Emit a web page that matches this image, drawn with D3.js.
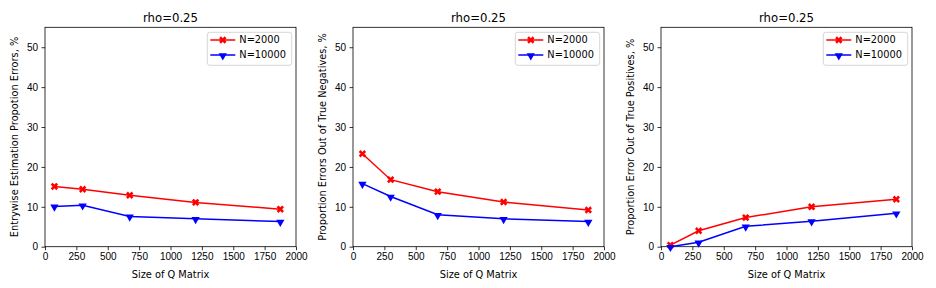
<!DOCTYPE html>
<html>
<head>
<meta charset="utf-8">
<script src="https://cdn.jsdelivr.net/npm/d3@7"></script>
<style>
  body { margin: 0; background: #fff; }
  svg { font-family: "DejaVu Sans", sans-serif; }
  .axis path, .axis line { stroke: #000; stroke-width: 0.8; }
</style>
</head>
<body>
<svg id="chart" width="936" height="288"></svg>
<script>
// values
var qSizes = [75, 300, 675, 1200, 1875];
var xTicks = [0, 250, 500, 750, 1000, 1250, 1500, 1750, 2000];
var yTicks = [0, 10, 20, 30, 40, 50];
var seriesNames = ["N=2000", "N=10000"];

var entrywiseN2000 = [15.1, 14.4, 12.9, 11.1, 9.4];
var entrywiseN10000 = [10.1, 10.4, 7.6, 7.0, 6.3];
var negativesN2000 = [23.3, 16.8, 13.8, 11.2, 9.2];
var negativesN10000 = [15.8, 12.6, 8.0, 7.0, 6.3];
var positivesN2000 = [0.4, 4.0, 7.3, 10.0, 11.9];
var positivesN10000 = [0.0, 1.1, 5.1, 6.4, 8.4];

var panelTitles = ["rho=0.25", "rho=0.25", "rho=0.25"];
var yLabels = ["Entrywise Estimation Propotion Errors, %",
               "Proportion Errors Out of True Negatives, %",
               "Proportion Error Out of True Positives, %"];
var xLabel = "Size of Q Matrix";

var panels = [
  {title: panelTitles[0], ylabel: yLabels[0], series: [entrywiseN2000, entrywiseN10000]},
  {title: panelTitles[1], ylabel: yLabels[1], series: [negativesN2000, negativesN10000]},
  {title: panelTitles[2], ylabel: yLabels[2], series: [positivesN2000, positivesN10000]}
];

var colors = ["#ff0000", "#0000ff"];
var lefts = [45, 353, 661];
var panelTop = 27.3, pw = 251, ph = 219.4;

var svg = d3.select("#chart");

// filled X for N=2000, down triangle for N=10000
var markerX = d3.symbol().type(d3.symbolCross).size(34);
var markerV = d3.symbol().type(d3.symbolTriangle).size(30);
function drawMarker(g, i, x, y){
  if(i===0){
    g.append("path").attr("d", markerX())
      .attr("transform", "translate("+x+","+y+") rotate(45)")
      .attr("fill", colors[i]);
  } else {
    g.append("path").attr("d", markerV())
      .attr("transform", "translate("+x+","+(y+0.6)+") rotate(180)")
      .attr("fill", colors[i]);
  }
}

panels.forEach(function(p, k){
  var g = svg.append("g").attr("transform", "translate("+lefts[k]+","+panelTop+")");

  var xScale = d3.scaleLinear().domain([0, 2000]).range([0, pw]);
  var yScale = d3.scaleLinear().domain([0, 55]).range([ph, 0]);

  var xAxis = d3.axisBottom(xScale).tickValues(xTicks).tickSize(3.5).tickPadding(3).tickFormat(d3.format("d"));
  var yAxis = d3.axisLeft(yScale).tickValues(yTicks).tickSize(3.5).tickPadding(3.5);

  g.append("g").classed("axis", true)
    .attr("transform", "translate(0,"+ph+")")
    .call(xAxis)
    .call(a => a.select(".domain").remove())
    .call(a => a.selectAll("text").attr("font-size", "10px").attr("fill", "#000"));
  g.append("g").classed("axis", true)
    .call(yAxis)
    .call(a => a.select(".domain").remove())
    .call(a => a.selectAll("text").attr("font-size", "10px").attr("fill", "#000"));

  // frame
  g.append("rect")
    .attr("width", pw).attr("height", ph)
    .attr("fill", "none").attr("stroke", "#000").attr("stroke-width", 0.8);

  var line = d3.line()
    .x((d, i) => xScale(qSizes[i]))
    .y(d => yScale(d));

  p.series.forEach(function(vals, i){
    g.append("path")
      .datum(vals)
      .attr("d", line)
      .attr("fill", "none")
      .attr("stroke", colors[i])
      .attr("stroke-width", 1.5);
    vals.forEach(function(v, j){
      drawMarker(g, i, xScale(qSizes[j]), yScale(v));
    });
  });

  // title and labels
  g.append("text")
    .attr("x", pw/2).attr("y", -5)
    .attr("text-anchor", "middle")
    .attr("font-size", "11.7px")
    .text(p.title);

  g.append("text")
    .attr("x", pw/2).attr("y", ph + 31.5)
    .attr("text-anchor", "middle")
    .attr("font-size", "9.8px")
    .text(xLabel);

  g.append("text")
    .attr("transform", "translate(-27.5,"+(ph/2)+") rotate(-90)")
    .attr("text-anchor", "middle")
    .attr("font-size", "9.8px")
    .text(p.ylabel);

  // legend
  var lg = g.append("g").attr("transform", "translate("+(pw-88.7)+",5)");
  lg.append("rect")
    .attr("width", 84.4).attr("height", 33).attr("rx", 2.5)
    .attr("fill", "#fff").attr("fill-opacity", 0.8)
    .attr("stroke", "#cccccc").attr("stroke-width", 0.8);
  seriesNames.forEach(function(name, i){
    var ly = 7.7 + i*15;
    lg.append("line")
      .attr("x1", 3).attr("x2", 28).attr("y1", ly).attr("y2", ly)
      .attr("stroke", colors[i]).attr("stroke-width", 1.5);
    drawMarker(lg, i, 15.5, ly);
    lg.append("text")
      .attr("x", 32).attr("y", ly + 3.5)
      .attr("font-size", "9.8px")
      .text(name);
  });
});
</script>
</body>
</html>
